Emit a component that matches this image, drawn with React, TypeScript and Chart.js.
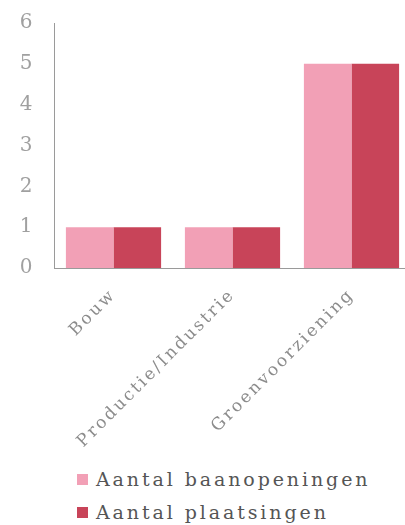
import React, { useEffect, useRef } from "react";
import { Chart, registerables } from "chart.js";

Chart.register(...registerables);

const categories = ["Bouw", "Productie/Industrie", "Groenvoorziening"];
const baanopeningen = [1, 1, 5];
const plaatsingen = [1, 1, 5];
const seriesNames = ["Aantal baanopeningen", "Aantal plaatsingen"];
const seriesColors = ["#F2A0B6", "#C84459"];

const FONT = "'DejaVu Serif', serif";

const spacingPlugin = {
  id: "letterSpacing",
  beforeLayout(chart: any) {
    chart.ctx.letterSpacing = "2.5px";
  },
  beforeDraw(chart: any) {
    chart.ctx.letterSpacing = "2.5px";
  },
};

export default function App() {
  const ref = useRef<HTMLCanvasElement | null>(null);

  useEffect(() => {
    if (!ref.current) return;
    const chart = new Chart(ref.current, {
      type: "bar",
      plugins: [spacingPlugin],
      data: {
        labels: categories,
        datasets: [
          { label: seriesNames[0], data: baanopeningen, backgroundColor: seriesColors[0], borderWidth: 0 },
          { label: seriesNames[1], data: plaatsingen, backgroundColor: seriesColors[1], borderWidth: 0 },
        ],
      },
      options: {
        animation: false,
        responsive: false,
        layout: { padding: { top: 0, right: 0, left: 0, bottom: 0 } },
        plugins: { legend: { display: false }, tooltip: { enabled: false } },
        datasets: { bar: { categoryPercentage: 0.8, barPercentage: 1.0 } },
        scales: {
          x: {
            grid: { display: false, drawTicks: false },
            border: { display: true, color: "#9a9a9a", width: 1 },
            ticks: {
              minRotation: 45,
              maxRotation: 45,
              padding: 17,
              color: "#8c8c8c",
              font: { family: FONT, size: 17 },
            },
            afterFit: (s: any) => {
              s.height = 187;
            },
          },
          y: {
            min: 0,
            max: 6,
            grid: { display: false, drawTicks: false },
            border: { display: true, color: "#9a9a9a", width: 1 },
            ticks: {
              stepSize: 1,
              padding: 19,
              color: "#a0a0a0",
              font: { family: FONT, size: 20 },
            },
            afterFit: (s: any) => {
              s.width = 54;
            },
          },
        },
      },
    });
    return () => chart.destroy();
  }, []);

  return (
    <div style={{ position: "fixed", left: 0, top: 0, width: 405, height: 525, overflow: "hidden", background: "#fff" }}>
      <canvas
        ref={ref}
        width={411}
        height={463}
        style={{ display: "block", position: "absolute", left: 0, top: -8, width: 411, height: 463 }}
      />
      <div
        style={{
          position: "absolute",
          left: 77,
          top: 463,
          fontFamily: FONT,
          fontSize: 19,
          letterSpacing: "2.9px",
          color: "#555",
          lineHeight: "33px",
        }}
      >
        {seriesNames.map((n, i) => (
          <div key={n} style={{ display: "flex", alignItems: "center" }}>
            <span style={{ display: "inline-block", width: 11, height: 11, background: seriesColors[i], marginRight: 8 }} />
            <span>{n}</span>
          </div>
        ))}
      </div>
    </div>
  );
}
